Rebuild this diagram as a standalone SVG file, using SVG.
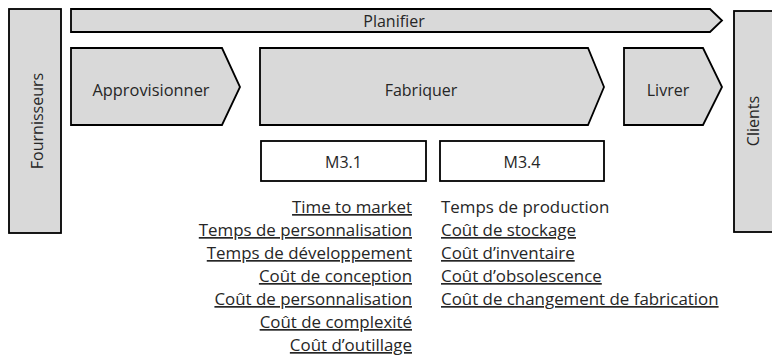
<svg xmlns="http://www.w3.org/2000/svg" width="772" height="356" viewBox="0 0 772 356">
<style>
.shape{fill:#d9d9d9;stroke:#000;stroke-width:1.8;stroke-linejoin:miter}
.box{fill:#fff;stroke:#000;stroke-width:1.8}
text{font-family:"Open Sans","Noto Sans","Liberation Sans",sans-serif;font-size:16px;fill:#262626}
.c{text-anchor:middle}
.r{text-anchor:end}
.u{text-decoration:underline}
.l{font-size:16.9px}
</style>
<rect width="772" height="356" fill="#fff"/>
<g id="fournisseurs">
<rect class="shape" x="9" y="9" width="52" height="224"/>
<text class="c" transform="translate(43,121) rotate(-90)">Fournisseurs</text>
</g>
<g id="planifier">
<polygon class="shape" points="71,9 710,9 722,20.5 710,32 71,32"/>
<text class="c" x="394" y="27">Planifier</text>
</g>
<g id="approvisionner">
<polygon class="shape" points="71,48 222,48 240,87 222,125 71,125"/>
<text class="c" x="151" y="96" style="font-size:16.4px">Approvisionner</text>
</g>
<g id="fabriquer">
<polygon class="shape" points="260,48 588,48 604,87 588,125 260,125"/>
<text class="c" x="421" y="96">Fabriquer</text>
</g>
<g id="livrer">
<polygon class="shape" points="624,48 703,48 722,87 703,125 624,125"/>
<text class="c" x="668" y="96">Livrer</text>
</g>
<g id="clients">
<rect class="shape" x="734" y="11" width="50" height="221"/>
<text class="c" transform="translate(759,121) rotate(-90)">Clients</text>
</g>
<g id="m31">
<rect class="box" x="261" y="141" width="165" height="40"/>
<text class="c" x="343.5" y="168">M3.1</text>
</g>
<g id="m34">
<rect class="box" x="440" y="141" width="164" height="40"/>
<text class="c" x="522" y="168">M3.4</text>
</g>
<g id="m31-list">
<text class="r u l" x="412" y="213">Time to market</text>
<text class="r u l" x="412" y="236">Temps de personnalisation</text>
<text class="r u l" x="412" y="259">Temps de développement</text>
<text class="r u l" x="412" y="282">Coût de conception</text>
<text class="r u l" x="412" y="305">Coût de personnalisation</text>
<text class="r u l" x="412" y="328">Coût de complexité</text>
<text class="r u l" x="412" y="351">Coût d’outillage</text>
</g>
<g id="m34-list">
<text class="l" x="441" y="213">Temps de production</text>
<text class="u l" x="441" y="236">Coût de stockage</text>
<text class="u l" x="441" y="259">Coût d’inventaire</text>
<text class="u l" x="441" y="282">Coût d’obsolescence</text>
<text class="u l" x="441" y="305">Coût de changement de fabrication</text>
</g>
<g id="connectors"></g>
</svg>
